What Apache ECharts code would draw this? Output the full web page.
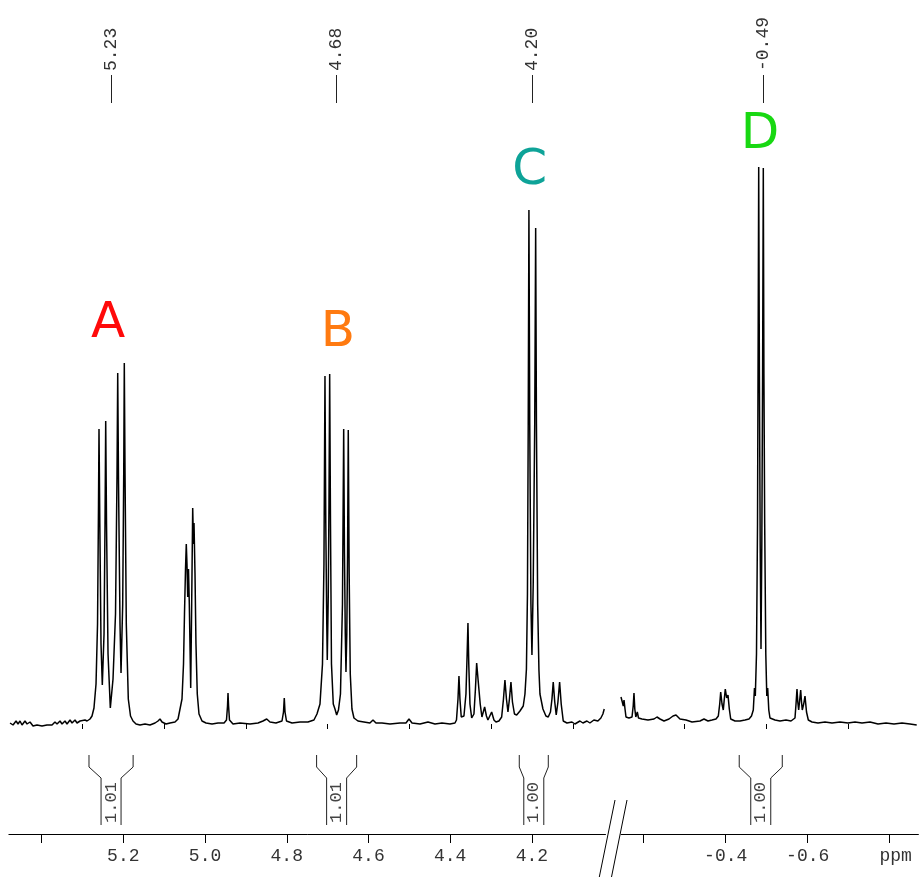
<!DOCTYPE html>
<html><head><meta charset="utf-8">
<script src="https://cdn.jsdelivr.net/npm/echarts@6/dist/echarts.min.js"></script>
<style>html,body{margin:0;padding:0;background:#fff}#c{width:919px;height:877px}</style>
</head><body><div id="c"></div>
<script>
// ---- DATA ----
// left segment of the spectrum: [ppm, intensity]
const leftSpectrum = [
[5.4772,1],[5.4699,-1],[5.4625,3],[5.4577,0],[5.4528,3],[5.4479,-1],[5.4406,3],[5.4356,0],[5.4283,2],[5.4210,-2],
[5.4112,-1],[5.3990,-2],[5.3868,-1],[5.3745,-1],[5.3672,2],[5.3622,0],[5.3549,3],[5.3500,0],[5.3427,3],[5.3378,0],
[5.3304,4],[5.3255,1],[5.3182,4],[5.3133,1],[5.3059,3],[5.3011,1],[5.2937,4],[5.2888,3],[5.2815,5],
[5.2766,8],[5.2718,16],[5.2668,40],[5.2631,100],[5.2607,220],[5.2595,295],[5.2575,200],[5.2546,80],[5.2514,39],
[5.2472,90],[5.2448,200],[5.2431,303],[5.2411,200],[5.2374,70],[5.2318,16],[5.2252,45],[5.2191,110],[5.2154,250],
[5.2137,351],[5.2117,240],[5.2081,100],[5.2056,51],[5.2015,120],[5.1990,250],[5.1976,361],[5.1958,250],[5.1927,100],
[5.1878,25],[5.1824,8],[5.1763,3],[5.1689,0],[5.1592,-1],[5.1469,0],[5.1347,-1],[5.1224,1],[5.1151,3],[5.1102,5],
[5.1053,2],[5.0955,0],[5.0857,1],[5.0735,2],[5.0661,5],
[5.0613,6],[5.0564,25],[5.0527,60],[5.0503,110],[5.0478,155],[5.0459,180],[5.0442,160],[5.0424,127],[5.0405,155],
[5.0385,120],[5.0351,36],[5.0327,120],[5.0302,216],[5.0283,180],[5.0270,201],[5.0246,151],[5.0222,80],[5.0190,30],
[5.0148,10],[5.0074,3],[4.9976,1],[4.9829,0],[4.9682,1],[4.9535,1],[4.9475,4],[4.9450,18],[4.9438,31],[4.9424,18],
[4.9402,4],[4.9316,0],[4.9145,1],[4.8900,0],[4.8704,1],[4.8582,3],[4.8491,5],[4.8411,2],[4.8264,1],[4.8117,3],
[4.8080,12],[4.8061,26],[4.8043,12],[4.8007,3],[4.7872,1],[4.7677,2],[4.7481,2],[4.7335,4],[4.7261,10],[4.7187,20],
[4.7126,60],[4.7090,160],[4.7065,348],[4.7045,200],[4.7021,100],[4.7009,64],[4.6984,130],[4.6967,220],[4.6950,350],
[4.6930,200],[4.6906,60],[4.6862,20],[4.6820,15],[4.6779,9],[4.6735,14],[4.6686,30],[4.6637,120],[4.6607,295],
[4.6588,170],[4.6568,90],[4.6551,52],[4.6531,90],[4.6512,170],[4.6495,294],[4.6473,150],[4.6446,50],[4.6405,15],
[4.6356,6],[4.6258,3],[4.6112,2],[4.5965,1],[4.5890,4],[4.5817,1],[4.5670,1],[4.5474,0],[4.5229,1],[4.5083,1],
[4.5009,5],[4.4935,1],[4.4740,0],[4.4544,2],[4.4373,0],[4.4202,1],[4.4006,0],[4.3884,1],
[4.3847,4],[4.3810,25],[4.3786,48],[4.3762,25],[4.3730,7],[4.3664,8],[4.3615,30],[4.3586,70],[4.3566,101],[4.3546,60],
[4.3517,20],[4.3475,6],[4.3419,10],[4.3383,35],[4.3353,61],[4.3322,46],[4.3297,44],[4.3266,20],[4.3224,7],[4.3158,17],
[4.3114,8],[4.3077,4],[4.2986,12],[4.2930,4],[4.2881,2],[4.2808,3],[4.2741,7],[4.2697,25],[4.2661,44],[4.2624,25],
[4.2587,12],[4.2551,25],[4.2514,42],[4.2477,22],[4.2428,10],[4.2374,9],[4.2293,13],[4.2213,18],[4.2171,30],[4.2135,55],
[4.2110,130],[4.2091,300],[4.2074,514],[4.2054,300],[4.2025,120],[4.2000,69],[4.1969,140],[4.1932,300],[4.1909,496],
[4.1890,300],[4.1860,120],[4.1829,54],[4.1804,30],[4.1780,32],[4.1731,15],[4.1658,8],[4.1601,7],[4.1547,12],[4.1510,25],
[4.1479,42],[4.1442,22],[4.1406,9],[4.1364,22],[4.1323,42],[4.1284,20],[4.1234,3],[4.1144,1],[4.1021,2],[4.0948,0],
[4.0826,3],[4.0753,1],[4.0655,3],[4.0582,1],[4.0484,4],[4.0386,3],[4.0313,6],[4.0264,10],[4.0231,15]
];
// right segment of the spectrum: [ppm, intensity]
const rightSpectrum = [
[-0.1446,27],[-0.1478,22],[-0.1502,18],[-0.1520,24],[-0.1544,15],[-0.1568,7],[-0.1641,6],[-0.1715,7],[-0.1744,18],
[-0.1763,31],[-0.1783,15],[-0.1807,7],[-0.1844,12],[-0.1873,6],[-0.1958,5],[-0.2105,4],[-0.2251,5],[-0.2324,7],
[-0.2398,5],[-0.2495,3],[-0.2617,5],[-0.2715,8],[-0.2788,9],[-0.2885,5],[-0.3032,4],[-0.3178,2],[-0.3373,3],
[-0.3471,5],[-0.3568,3],[-0.3666,4],[-0.3763,5],[-0.3820,8],[-0.3854,20],[-0.3878,32],[-0.3910,20],[-0.3941,14],
[-0.3966,25],[-0.3990,35],[-0.4024,26],[-0.4056,29],[-0.4088,15],[-0.4122,5],[-0.4227,3],[-0.4349,3],[-0.4471,4],
[-0.4568,5],[-0.4629,8],[-0.4673,14],[-0.4702,36],[-0.4722,28],[-0.4751,70],[-0.4776,200],[-0.4793,400],[-0.4805,557],
[-0.4822,350],[-0.4841,180],[-0.4861,75],[-0.4881,180],[-0.4900,350],[-0.4917,556],[-0.4932,350],[-0.4951,200],
[-0.4978,70],[-0.5002,28],[-0.5024,36],[-0.5051,14],[-0.5080,6],[-0.5202,4],[-0.5324,3],[-0.5471,4],[-0.5593,3],
[-0.5690,6],[-0.5715,20],[-0.5739,35],[-0.5758,22],[-0.5780,14],[-0.5805,24],[-0.5829,34],[-0.5849,22],[-0.5868,14],
[-0.5902,20],[-0.5934,28],[-0.5971,12],[-0.6015,4],[-0.6105,2],[-0.6251,1],[-0.6422,2],[-0.6593,1],[-0.6788,2],
[-0.6983,1],[-0.7154,2],[-0.7324,1],[-0.7520,2],[-0.7715,0],[-0.7910,1],[-0.8105,0],[-0.8300,1],[-0.8495,0],[-0.8659,-1]
];
// peak picks (ppm)
const peakPicksLeft = [5.23, 4.68, 4.20];
const peakPicksRight = [-0.49];
// integrals: start ppm, end ppm, value
const integralStartLeft = [5.284, 4.727, 4.231];
const integralEndLeft = [5.176, 4.629, 4.160];
const integralValueLeft = ['1.01', '1.01', '1.00'];
const integralStartRight = [-0.433];
const integralEndRight = [-0.538];
const integralValueRight = ['1.00'];
// ticks
const majorTicksLeft = [5.4, 5.2, 5.0, 4.8, 4.6, 4.4, 4.2];
const minorTicksLeft = [5.3, 5.1, 4.9, 4.7, 4.5, 4.3, 4.1];
const tickLabelsLeft = [5.2, 5.0, 4.8, 4.6, 4.4, 4.2];
const majorTicksRight = [-0.2, -0.4, -0.6, -0.8];
const minorTicksRight = [-0.3, -0.5, -0.7];
const tickLabelsRight = [-0.4, -0.6, -0.8];
// peak group letters: [ppm, intensity, letter]
const groupLetters = [[5.2373, 400, 'A'], [4.6746, 391, 'B'], [4.2053, 553, 'C'], [-0.4839, 589, 'D']];

// ---- STYLE ----
const letterColors = {A: '#ff0a0a', B: '#ff7a10', C: '#0ea398', D: '#18d812'};
const MONO = '"Liberation Mono", "DejaVu Sans Mono", monospace';
const ink = '#000';
const Y_MIN = -110, Y_MAX = 714;

function peakRender(params, api) {
  const p = api.value(0);
  const a = api.coord([p, 621]);
  const b = api.coord([p, 649]);
  const xr = Math.round(a[0]) + 0.5;
  return {type: 'group', children: [
    {type: 'line', shape: {x1: xr, y1: a[1], x2: xr, y2: b[1]}, style: {stroke: '#222', lineWidth: 1}},
    {type: 'text', x: xr, y: b[1] - 4, rotation: Math.PI / 2,
     style: {text: (p < 0 ? '-' : '') + Math.abs(p).toFixed(2), align: 'left', verticalAlign: 'middle',
             font: '18px ' + MONO, fill: '#333'}}
  ]};
}
function makeIntegralRender(values) {
  return function (params, api) {
    const s = api.value(0), e = api.value(1);
    const top = api.coord([s, -31]), corner = api.coord([s, -43]), inner = api.coord([s, -54]), bottom = api.coord([s, -101]);
    const xs = top[0], xe = api.coord([e, -31])[0];
    const xc = (xs + xe) / 2, w = 10;
    const st = {stroke: '#222', lineWidth: 1, fill: null};
    return {type: 'group', children: [
      {type: 'polyline', shape: {points: [[xs, top[1]], [xs, corner[1]], [xc - w, inner[1]], [xc - w, bottom[1]]]}, style: st},
      {type: 'polyline', shape: {points: [[xe, top[1]], [xe, corner[1]], [xc + w, inner[1]], [xc + w, bottom[1]]]}, style: st},
      {type: 'text', x: xc, y: (inner[1] + bottom[1]) / 2 + 1, rotation: Math.PI / 2,
       style: {text: values[params.dataIndex], align: 'center', verticalAlign: 'middle', font: '17px ' + MONO, fill: '#444'}}
    ]};
  };
}
function xAxes(gridIndex, min, max, major, minor, labels) {
  return [
    {type: 'value', gridIndex, min, max, inverse: true, position: 'bottom',
     axisLine: {show: true, onZero: false, lineStyle: {color: ink, width: 1}},
     axisTick: {show: true, customValues: major, length: 9, lineStyle: {color: ink}},
     axisLabel: {show: true, customValues: labels, margin: 13, color: '#333', fontFamily: MONO, fontSize: 18,
       formatter: v => Math.abs(v + 0.8) < 1e-6 ? '{p|ppm}' : v.toFixed(1),
       rich: {p: {fontFamily: MONO, fontSize: 18, color: '#333', padding: [0, 0, 0, 12]}}},
     splitLine: {show: false}},
    {type: 'value', gridIndex, min, max, inverse: true, position: 'bottom',
     axisLine: {show: false}, axisLabel: {show: false}, splitLine: {show: false},
     axisTick: {show: true, customValues: minor, length: 5, lineStyle: {color: ink}}}
  ];
}
function letterData(filterFn) {
  return groupLetters.filter(filterFn).map(d => ({
    value: [d[0], d[1]],
    label: {formatter: d[2], color: letterColors[d[2]]}
  }));
}
const letterLabel = {show: true, position: 'inside', fontFamily: '"DejaVu Sans", sans-serif', fontSize: 50,
  textBorderWidth: 0, textShadowBlur: 0, opacity: 1};

const option = {
  animation: false,
  backgroundColor: '#fff',
  grid: [
    {left: 8.9, width: 596.6, top: 10, bottom: 43},
    {left: 621.15, width: 297.25, top: 10, bottom: 43}
  ],
  xAxis: [
    ...xAxes(0, 4.02, 5.48, majorTicksLeft, minorTicksLeft, tickLabelsLeft),
    ...xAxes(1, -0.87, -0.145, majorTicksRight, minorTicksRight, tickLabelsRight)
  ],
  yAxis: [
    {type: 'value', gridIndex: 0, min: Y_MIN, max: Y_MAX, show: false},
    {type: 'value', gridIndex: 1, min: Y_MIN, max: Y_MAX, show: false}
  ],
  series: [
    {type: 'line', xAxisIndex: 0, yAxisIndex: 0, data: leftSpectrum, showSymbol: false, symbol: 'none',
     lineStyle: {color: ink, width: 1.5}, silent: true},
    {type: 'line', xAxisIndex: 2, yAxisIndex: 1, data: rightSpectrum, showSymbol: false, symbol: 'none',
     lineStyle: {color: ink, width: 1.5}, silent: true},
    {type: 'custom', xAxisIndex: 0, yAxisIndex: 0, data: peakPicksLeft.map(p => [p, 635]), renderItem: peakRender, encode: {x: 0, y: 1}},
    {type: 'custom', xAxisIndex: 2, yAxisIndex: 1, data: peakPicksRight.map(p => [p, 635]), renderItem: peakRender, encode: {x: 0, y: 1}},
    {type: 'custom', xAxisIndex: 0, yAxisIndex: 0, data: integralStartLeft.map((s, i) => [s, integralEndLeft[i], -60]),
     renderItem: makeIntegralRender(integralValueLeft), encode: {x: [0, 1], y: 2}},
    {type: 'custom', xAxisIndex: 2, yAxisIndex: 1, data: integralStartRight.map((s, i) => [s, integralEndRight[i], -60]),
     renderItem: makeIntegralRender(integralValueRight), encode: {x: [0, 1], y: 2}},
    {type: 'scatter', xAxisIndex: 0, yAxisIndex: 0, symbolSize: 0, itemStyle: {opacity: 1}, data: letterData(d => d[0] > 0),
     label: letterLabel},
    {type: 'scatter', xAxisIndex: 2, yAxisIndex: 1, symbolSize: 0, itemStyle: {opacity: 1}, data: letterData(d => d[0] < 0),
     label: letterLabel}
  ],
  graphic: [
    {type: 'line', shape: {x1: 599.3, y1: 877, x2: 615, y2: 800}, style: {stroke: ink, lineWidth: 1}},
    {type: 'line', shape: {x1: 611.5, y1: 877, x2: 627, y2: 800}, style: {stroke: ink, lineWidth: 1}}
  ]
};
const chart = echarts.init(document.getElementById('c'));
chart.setOption(option);
</script></body></html>
